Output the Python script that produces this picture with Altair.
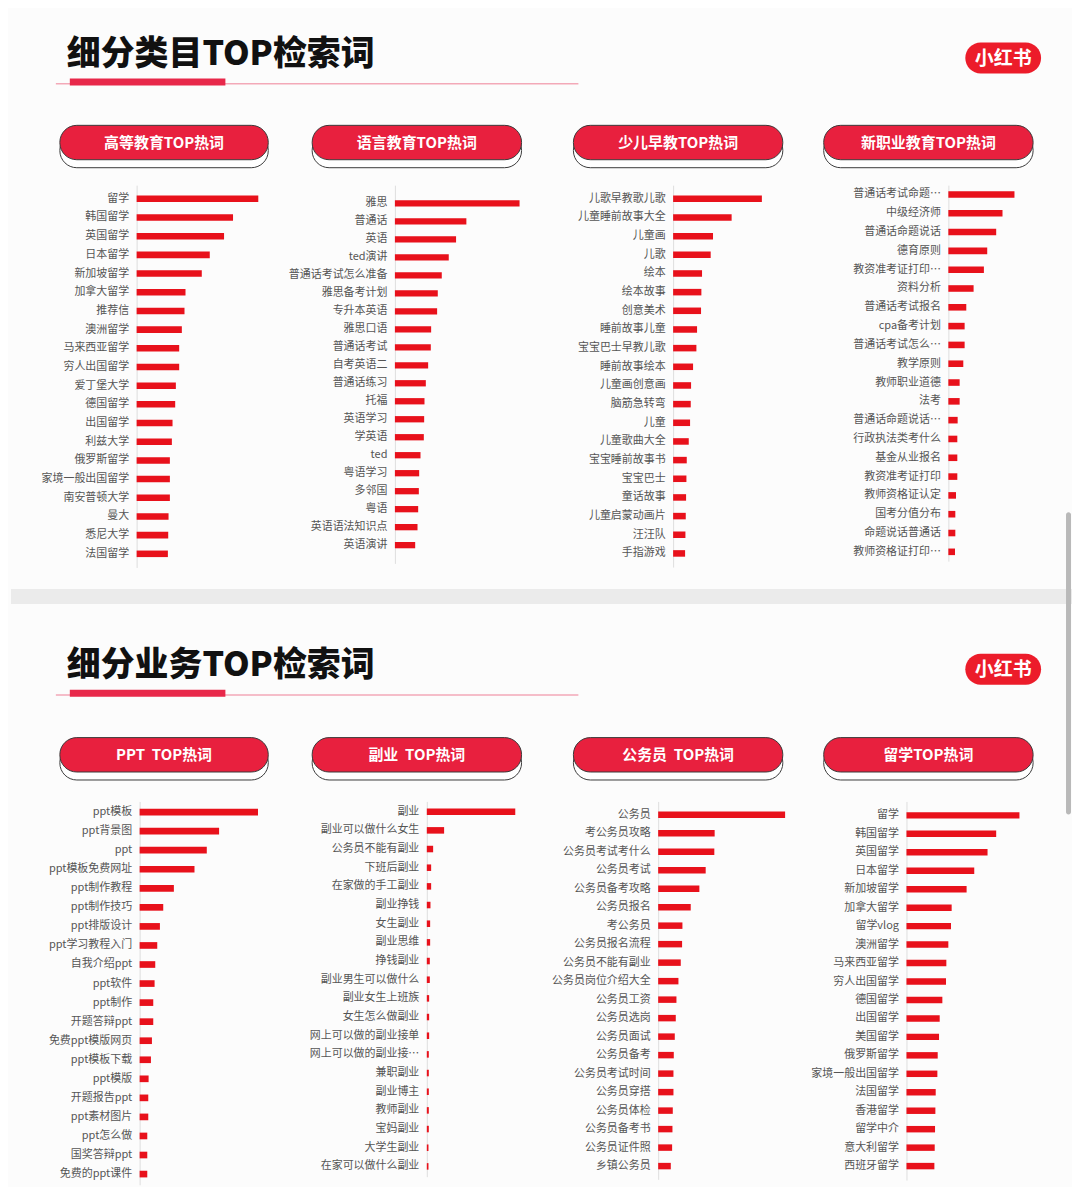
import altair as alt
import pandas as pd

FONT = "Noto Sans CJK SC"
BAR = "#e8111b"
PILL = "#e8203e"
LOGO = "#ec1c2a"

# ---------------- data ----------------
title_top = "细分类目TOP检索词"
title_bottom = "细分业务TOP检索词"
logo_text = "小红书"

pill_top = ["高等教育TOP热词", "语言教育TOP热词", "少儿早教TOP热词", "新职业教育TOP热词"]
pill_bottom = ["PPT\u00a0\u00a0TOP热词", "副业\u00a0\u00a0TOP热词", "公务员\u00a0\u00a0TOP热词", "留学TOP热词"]

cat1_labels = ["留学", "韩国留学", "英国留学", "日本留学", "新加坡留学", "加拿大留学", "推荐信", "澳洲留学",
               "马来西亚留学", "穷人出国留学", "爱丁堡大学", "德国留学", "出国留学", "利兹大学", "俄罗斯留学",
               "家境一般出国留学", "南安普顿大学", "曼大", "悉尼大学", "法国留学"]
cat1_values = [366, 290, 263, 220, 196, 147, 144, 136, 128, 128, 118, 116, 108, 106, 100, 100, 100, 96, 95, 94]

cat2_labels = ["雅思", "普通话", "英语", "ted演讲", "普通话考试怎么准备", "雅思备考计划", "专升本英语", "雅思口语",
               "普通话考试", "自考英语二", "普通话练习", "托福", "英语学习", "学英语", "ted", "粤语学习", "多邻国",
               "粤语", "英语语法知识点", "英语演讲"]
cat2_values = [375, 215, 184, 162, 141, 129, 127, 109, 108, 100, 93, 89, 88, 87, 77, 73, 72, 70, 68, 61]

cat3_labels = ["儿歌早教歌儿歌", "儿童睡前故事大全", "儿童画", "儿歌", "绘本", "绘本故事", "创意美术", "睡前故事儿童",
               "宝宝巴士早教儿歌", "睡前故事绘本", "儿童画创意画", "脑筋急转弯", "儿童", "儿童歌曲大全",
               "宝宝睡前故事书", "宝宝巴士", "童话故事", "儿童启蒙动画片", "汪汪队", "手指游戏"]
cat3_values = [267, 176, 120, 113, 87, 85, 84, 72, 70, 60, 54, 53, 51, 47, 41, 40, 39, 38, 37, 36]

cat4_labels = ["普通话考试命题…", "中级经济师", "普通话命题说话", "德育原则", "教资准考证打印…", "资料分析",
               "普通话考试报名", "cpa备考计划", "普通话考试怎么…", "教学原则", "教师职业道德", "法考",
               "普通话命题说话…", "行政执法类考什么", "基金从业报名", "教资准考证打印", "教师资格证认定",
               "国考分值分布", "命题说话普通话", "教师资格证打印…"]
cat4_values = [199, 163, 144, 117, 107, 76, 54, 49, 49, 45, 34, 34, 28, 27, 27, 27, 23, 21, 21, 20]

biz1_labels = ["ppt模板", "ppt背景图", "ppt", "ppt模板免费网址", "ppt制作教程", "ppt制作技巧", "ppt排版设计",
               "ppt学习教程入门", "自我介绍ppt", "ppt软件", "ppt制作", "开题答辩ppt", "免费ppt模版网页",
               "ppt模板下载", "ppt模版", "开题报告ppt", "ppt素材图片", "ppt怎么做", "国奖答辩ppt", "免费的ppt课件"]
biz1_values = [356, 239, 202, 165, 103, 71, 61, 53, 47, 45, 41, 41, 37, 34, 27, 26, 26, 23, 23, 23]

biz2_labels = ["副业", "副业可以做什么女生", "公务员不能有副业", "下班后副业", "在家做的手工副业", "副业挣钱",
               "女生副业", "副业思维", "挣钱副业", "副业男生可以做什么", "副业女生上班族", "女生怎么做副业",
               "网上可以做的副业接单", "网上可以做的副业接…", "兼职副业", "副业博主", "教师副业", "宝妈副业",
               "大学生副业", "在家可以做什么副业"]
biz2_values = [266, 52, 19, 13, 13, 11, 10, 10, 9, 9, 7, 7, 7, 6, 6, 6, 6, 6, 5, 5]

biz3_labels = ["公务员", "考公务员攻略", "公务员考试考什么", "公务员考试", "公务员备考攻略", "公务员报名",
               "考公务员", "公务员报名流程", "公务员不能有副业", "公务员岗位介绍大全", "公务员工资", "公务员选岗",
               "公务员面试", "公务员备考", "公务员考试时间", "公务员穿搭", "公务员体检", "公务员备考书",
               "公务员证件照", "乡镇公务员"]
biz3_values = [382, 170, 169, 143, 124, 98, 73, 72, 68, 61, 55, 53, 50, 47, 46, 46, 44, 43, 42, 38]

biz4_labels = ["留学", "韩国留学", "英国留学", "日本留学", "新加坡留学", "加拿大留学", "留学vlog", "澳洲留学",
               "马来西亚留学", "穷人出国留学", "德国留学", "出国留学", "美国留学", "俄罗斯留学", "家境一般出国留学",
               "法国留学", "香港留学", "留学中介", "意大利留学", "西班牙留学"]
biz4_values = [340, 270, 244, 204, 181, 136, 134, 126, 120, 119, 108, 100, 98, 94, 93, 88, 87, 86, 85, 84]

# ---------------- layout (page pixels) ----------------
MARGIN = 8
W = 1064
T1 = 184   # top of first row of bar panels (page y)
T2 = 802   # top of second row of bar panels (page y)
PI = 0.65

one = pd.DataFrame({"k": [0]})


def bar_panel(labels, values, width, bar_len, c0, c_last, top):
    n = len(labels)
    step = (c_last - c0) / (n - 1)
    p_out = (c0 - top) / step - (1 - PI) / 2
    h = step * (n - PI + 2 * p_out)
    dmax = max(values) * width / bar_len
    df = pd.DataFrame({"term": labels, "value": values})
    ch = alt.Chart(df).mark_bar(color=BAR).encode(
        y=alt.Y("term:N", sort=labels,
                scale=alt.Scale(paddingInner=PI, paddingOuter=p_out),
                axis=alt.Axis(title=None, ticks=False, domainColor="#dedede", domainWidth=1,
                              labelFont=FONT, labelFontSize=11, labelColor="#555555",
                              labelPadding=8, labelLimit=250)),
        x=alt.X("value:Q", scale=alt.Scale(domain=[0, dmax], nice=False, zero=True), axis=None),
        tooltip=["term:N", "value:Q"],
    ).properties(width=width, height=h)
    return ch


def spacer(w):
    return alt.Chart(one).mark_point(opacity=0).encode(
        x=alt.value(0), y=alt.value(0)).properties(width=w, height=1)


def rect(x1, x2, y1, y2, **kw):
    return alt.Chart(one).mark_rect(**kw).encode(
        x=alt.value(x1), x2=alt.value(x2), y=alt.value(y1), y2=alt.value(y2))


def text(x, y, s, **kw):
    return alt.Chart(one).mark_text(text=s, font=FONT, **kw).encode(x=alt.value(x), y=alt.value(y))


def header(page_top, height, title, pills, pill_x, title_cy, pill_y, extra=None):
    def Y(v):
        return v - page_top

    def X(v):
        return v - MARGIN

    layers = []
    if extra:
        layers += extra(X, Y)
    # title
    layers.append(text(X(64), Y(title_cy), title, fontSize=34, fontWeight=900, color="#111111",
                       align="left", baseline="middle"))
    # underline
    layers.append(rect(X(53), X(577), Y(title_cy + 28.5), Y(title_cy + 30), color="#f3a9b8"))
    layers.append(rect(X(67), X(223), Y(title_cy + 24), Y(title_cy + 31), color="#e8284a"))
    # logo
    layers.append(rect(X(965), X(1041), Y(title_cy - 12), Y(title_cy + 19), color=LOGO, cornerRadius=15.5))
    layers.append(text(X(1003), Y(title_cy + 4), logo_text, fontSize=19, fontWeight="bold",
                       color="white", align="center", baseline="middle"))
    # pills
    for name, (a, b) in zip(pills, pill_x):
        layers.append(rect(X(a), X(b), Y(pill_y + 8), Y(pill_y + 42.5), fill="white", stroke="#3a3a3a",
                           strokeWidth=1, cornerRadius=17))
        layers.append(rect(X(a), X(b), Y(pill_y), Y(pill_y + 34.5), fill=PILL, stroke="#3a3a3a",
                           strokeWidth=1, cornerRadius=17))
        layers.append(text(X((a + b) / 2), Y(pill_y + 17.5), name, fontSize=15, fontWeight="bold",
                           color="white", align="center", baseline="middle"))
    return alt.layer(*layers).properties(width=W, height=height)


# ---- row 1 ----
ax1 = [134, 393, 672, 948]
p1 = bar_panel(cat1_labels, cat1_values, ax1[1] - ax1[0], 122, 197.7, 553.7, T1)
p2 = bar_panel(cat2_labels, cat2_values, ax1[2] - ax1[1], 125, 202.3, 545.0, T1)
p3 = bar_panel(cat3_labels, cat3_values, ax1[3] - ax1[2], 89, 197.7, 553.3, T1)
p4 = bar_panel(cat4_labels, cat4_values, 100, 66.3, 193.3, 551.7, T1)
row1 = alt.hconcat(spacer(ax1[0] - MARGIN), p1, p2, p3, p4, spacing=0, bounds="flush")

# ---- row 2 ----
ax2 = [137, 425, 657, 906]
q1 = bar_panel(biz1_labels, biz1_values, ax2[1] - ax2[0], 118.7, 812.7, 1175.7, T2)
q2 = bar_panel(biz2_labels, biz2_values, ax2[2] - ax2[1], 88.7, 812.3, 1168.0, T2)
q3 = bar_panel(biz3_labels, biz3_values, ax2[3] - ax2[2], 127.3, 815.3, 1167.7, T2)
q4 = bar_panel(biz4_labels, biz4_values, 120, 113.3, 816.0, 1167.7, T2)
row2 = alt.hconcat(spacer(ax2[0] - MARGIN), q1, q2, q3, q4, spacing=0, bounds="flush")

pill_x_top = [(57, 266), (310, 520), (572, 782), (823, 1033)]
pill_x_bot = [(57, 266), (310, 520), (572, 782), (823, 1033)]

head1 = header(MARGIN, T1 - MARGIN, title_top, pill_top, pill_x_top, 53, 124)


def separator(X, Y):
    return [
        rect(X(MARGIN), X(MARGIN + W), Y(589), Y(604), color="#ebebeb"),
        rect(X(1066), X(1071), Y(512), Y(815), color="#b9b9b9", cornerRadius=2.5),
    ]


# nested flush rows take no vertical room in the outer flush stack, so the
# second header spans from the top of row 1 down to the top of row 2
head2 = header(T1, T2 - T1, title_bottom, pill_bottom, pill_x_bot, 666, 738, extra=separator)

chart = alt.vconcat(head1, row1, head2, row2, spacing=0, bounds="flush").properties(
    padding=0, background="#fcfcfc"
).configure_view(stroke=None).configure_concat(spacing=0)

chart.save("out.html", embed_options={"renderer": "svg", "actions": False})
